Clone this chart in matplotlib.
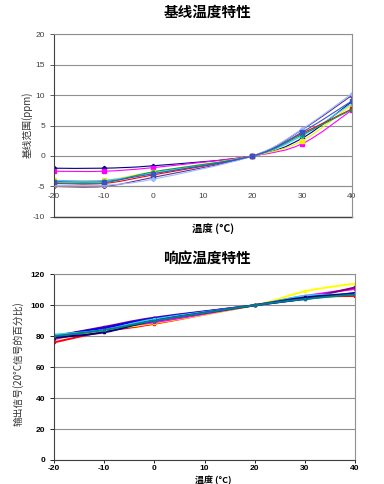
import numpy as np
import matplotlib
matplotlib.use("Agg")
import matplotlib.pyplot as plt
from matplotlib.path import Path
from matplotlib.patches import PathPatch

plt.rcParams['font.family'] = ['Liberation Sans', 'Noto Sans CJK SC', 'DejaVu Sans']
plt.rcParams['axes.unicode_minus'] = False

temps = [-20, -10, 0, 20, 30, 40]

# 基线温度特性 (ppm)
base_colors = ['#000080', '#FF00FF', '#F0F000', '#33CCFF', '#FF0000',
               '#00A060', '#603090', '#99BBFF', '#3355CC']
base_markers = ['D', 's', 's', '^', 's', 'o', 'D', 'D', 's']
base_vals = [
    [-2.0, -2.0, -1.6, 0, 2.9, 8.9],
    [-2.5, -2.5, -1.9, 0, 2.0, 7.5],
    [-4.0, -4.0, -2.6, 0, 2.5, 8.4],
    [-4.0, -4.0, -2.8, 0, 3.3, 8.6],
    [-4.5, -4.5, -3.1, 0, 3.7, 7.7],
    [-4.4, -4.4, -2.6, 0, 3.5, 7.6],
    [-5.0, -5.0, -3.5, 0, 4.3, 9.9],
    [-4.8, -4.8, -3.8, 0, 4.4, 10.2],
    [-4.2, -4.2, -2.9, 0, 3.9, 9.0],
]

# 响应温度特性 (%)
resp_colors = ['#FF0000', '#FFFF00', '#FF00FF', '#800080', '#0000FF',
               '#33CCFF', '#000080', '#008080']
resp_vals = [
    [76, 83, 88, 100, 105, 106],
    [78, 84, 88.5, 100, 109, 114],
    [78, 85, 89, 100, 106, 110.5],
    [80, 86, 92, 100, 104.5, 111.5],
    [80, 85.5, 91.5, 100, 104, 108],
    [81, 84, 91, 100, 106, 107],
    [79, 82.5, 90, 100, 105, 107.5],
    [80, 84, 90, 100, 104, 107],
]


def smooth_line(ax, xs, ys, color, lw):
    # excel-style smoothed line: bezier through the points
    p = np.column_stack([xs, ys]).astype(float)
    n = len(p)
    verts = [p[0]]
    codes = [Path.MOVETO]
    for i in range(n - 1):
        prev = p[i - 1] if i > 0 else p[i]
        nxt = p[i + 2] if i + 2 < n else p[i + 1]
        c1 = p[i] + (p[i + 1] - prev) / 6
        c2 = p[i + 1] - (nxt - p[i]) / 6
        verts += [c1, c2, p[i + 1]]
        codes += [Path.CURVE4] * 3
    ax.add_patch(PathPatch(Path(verts, codes), fc='none', ec=color, lw=lw))


fig = plt.figure(figsize=(3.84, 4.84), dpi=100)
cjk = ['Noto Sans CJK SC', 'DejaVu Sans']

# ---- top chart
ax1 = fig.add_axes([0.1406, 0.5517, 0.775, 0.378])
for vals, c, m in zip(base_vals, base_colors, base_markers):
    smooth_line(ax1, temps, vals, c, 0.8)
    ax1.plot(temps, vals, ls='none', marker=m, ms=2.2, color=c, mec=c)
ax1.set_xlim(-20, 40)
ax1.set_ylim(-10, 20)
ax1.set_yticks(range(-10, 21, 5))
ax1.set_xticks(range(-20, 41, 10))
ax1.grid(axis='y', color='#909090', lw=0.8)
for s in ['top', 'right']:
    ax1.spines[s].set_color('#909090')
ax1.spines['left'].set_color('#404040')
ax1.spines['bottom'].set_position(('data', -5))
ax1.spines['bottom'].set_color('#909090')
ax1.axhline(-10, color='#404040', lw=1.0, clip_on=False)
ax1.tick_params(axis='y', labelsize=6, colors='#404040', length=3, width=0.6)
ax1.tick_params(axis='x', labelsize=6, colors='#404040', length=0, pad=5)
ax1.set_axisbelow(True)

fig.text(0.54, 0.975, '基线温度特性', ha='center', va='center',
         fontsize=10.5, fontweight='bold', family=cjk)
fig.text(0.555, 0.525, '温度 (°C)', ha='center', va='center',
         fontsize=7.5, fontweight='bold', family=cjk)
fig.text(0.07, 0.742, '基线范围(ppm)', ha='center', va='center',
         rotation=90, fontsize=7, family=cjk, color='#333333')

# ---- bottom chart
ax2 = fig.add_axes([0.1406, 0.0496, 0.784, 0.3837])
for vals, c in zip(resp_vals, resp_colors):
    smooth_line(ax2, temps, vals, c, 1.4)
    ax2.plot(temps, vals, ls='none', marker='s', ms=2, color=c)
ax2.set_xlim(-20, 40)
ax2.set_ylim(0, 120)
ax2.set_yticks(range(0, 121, 20))
ax2.set_xticks(range(-20, 41, 10))
ax2.grid(axis='y', color='#909090', lw=0.8)
for s in ['top', 'right']:
    ax2.spines[s].set_color('#909090')
for s in ['left', 'bottom']:
    ax2.spines[s].set_color('#404040')
ax2.tick_params(axis='y', labelsize=6, length=3, width=0.6)
ax2.tick_params(axis='x', labelsize=6, length=2, width=0.6, pad=1.5)
for lab in ax2.get_xticklabels() + ax2.get_yticklabels():
    lab.set_fontweight('bold')
ax2.set_axisbelow(True)

fig.text(0.54, 0.467, '响应温度特性', ha='center', va='center',
         fontsize=10.5, fontweight='bold', family=cjk)
fig.text(0.555, -0.002, '温度 (°C)', ha='center', va='bottom',
         fontsize=6.5, fontweight='bold', family=cjk)
fig.text(0.047, 0.248, '输出信号(20°C信号的百分比)', ha='center', va='center',
         rotation=90, fontsize=7, family=cjk, color='#333333')

fig.savefig('out.png', dpi=100, facecolor='white')
